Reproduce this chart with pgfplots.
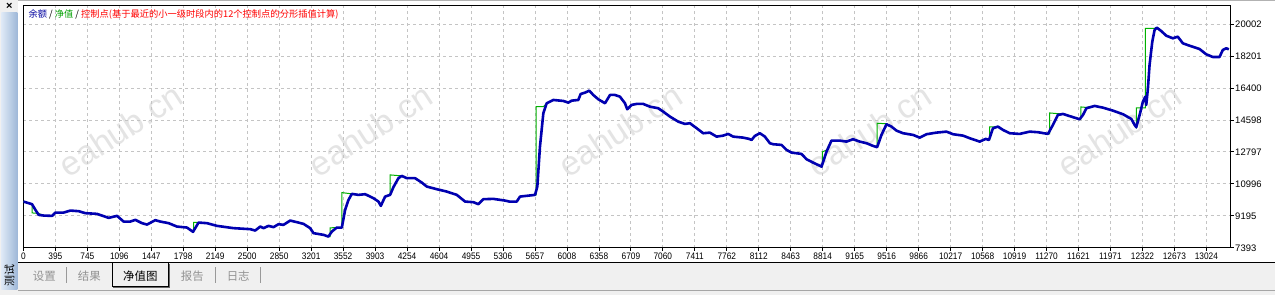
\documentclass[border=0pt]{standalone}
\usepackage{pgfplots}
\pgfplotsset{compat=1.18}
\usepackage{fontspec}
\setmainfont{Liberation Sans}
\newfontfamily\cjk{Noto Sans CJK SC}
\newfontfamily\xlab[FakeStretch=0.88]{Liberation Sans}
\definecolor{bal}{RGB}{0,0,176}
\definecolor{eq}{RGB}{0,176,0}
\definecolor{gridc}{RGB}{196,196,196}
\definecolor{uibg}{RGB}{240,240,240}
\definecolor{wm}{RGB}{228,228,228}
\definecolor{ttlblue}{RGB}{0,0,160}
\definecolor{ttlgreen}{RGB}{0,160,0}
\begin{document}
\begin{tikzpicture}
% background
\fill[white] (0bp,0bp) rectangle (1275bp,295bp);
\fill[uibg] (18bp,0bp) rectangle (1275bp,32bp);
\draw[black, line width=1bp] (18bp,32bp) -- (1275bp,32bp);
\draw[gray!70, line width=0.8bp] (0bp,4bp) -- (1275bp,4bp);
\draw[gray!60, line width=0.8bp] (18bp,294.5bp) -- (1275bp,294.5bp);
% left strip
\fill[uibg] (0bp,0bp) rectangle (18bp,295bp);
\shade[left color={rgb,255:red,222;green,233;blue,246}, right color={rgb,255:red,158;green,184;blue,216}] (1bp,5bp) rectangle (17bp,283bp);
\node[font=\bfseries\fontsize{11}{11}\selectfont] at (9bp,288.5bp) {×};
\node[rotate=90, font=\cjk\fontsize{11}{11}\selectfont] at (9bp,19bp) {测试};
% tabs
\draw[black, line width=1bp, fill=uibg] (112bp,32bp) -- (112bp,8bp) -- (168bp,8bp) -- (168bp,32bp);
\draw[gray!80!black, line width=1bp] (169bp,31bp) -- (169bp,7bp) -- (113bp,7bp);
\foreach \xx in {66,215,260}{\draw[gray!80, line width=0.8bp] (\xx bp,12bp) -- (\xx bp,28bp);}
\node[font=\cjk\fontsize{11.5}{12}\selectfont, text=gray!85] at (44bp,19bp) {设置};
\node[font=\cjk\fontsize{11.5}{12}\selectfont, text=gray!85] at (89bp,19bp) {结果};
\node[font=\cjk\fontsize{11.5}{12}\selectfont, text=black] at (140bp,19bp) {净值图};
\node[font=\cjk\fontsize{11.5}{12}\selectfont, text=gray!85] at (192bp,19bp) {报告};
\node[font=\cjk\fontsize{11.5}{12}\selectfont, text=gray!85] at (238bp,19bp) {日志};
% watermarks
\foreach \wx in {120,370,620,870,1120}{
  \node[rotate=33, text=wm, font=\fontsize{34}{34}\selectfont] at (\wx bp,165bp) {eahub.cn};
}
\begin{axis}[
  at={(23bp,47bp)}, anchor=south west,
  scale only axis, width=1208bp, height=243bp,
  xmin=0, xmax=13252, ymin=7393, ymax=21069,
  scaled ticks=false,
  axis line style={black, line width=1bp},
  xtick={0,351,...,12987},
  xticklabels={0,395,745,1096,1447,1798,2149,2500,2850,3201,3552,3903,4254,4604,4955,5306,5657,6008,6358,6709,7060,7411,7762,8112,8463,8814,9165,9516,9866,10217,10568,10919,11270,11621,11971,12322,12673,13024},
  ytick={7393,9195,10996,12797,14598,16400,18201,20002},
  yticklabels={7393,9195,10996,12797,14598,16400,18201,20002},
  yticklabel pos=right, xtick pos=bottom, ytick pos=right,
  grid=major,
  major grid style={gridc, dash pattern=on 3bp off 3bp, line width=0.8bp},
  tick align=outside, major tick length=3bp,
  tick style={black, line width=0.8bp},
  xticklabel style={font=\xlab\fontsize{9.5}{10}\selectfont, inner sep=1.5bp},
  yticklabel style={font=\fontsize{9.5}{10}\selectfont, anchor=west, inner sep=1.5bp},
  clip=true,
]
\addplot[eq, line width=1bp, line join=miter] coordinates {
(0,9999) (95,9852) (97,9360) (168,9330) (223,9211) (315,9194) (351,9380) (442,9380) (516,9492) (607,9458) (680,9346) (808,9307) (936,9081) (1028,9194) (1100,8873) (1174,8873) (1229,8969) (1302,8783) (1357,8704) (1448,8952) (1503,8873) (1594,8783) (1686,8592) (1796,8535) (1862,8293) (1868,8293) (1868,8830) (1923,8817) (2015,8783) (2125,8631) (2307,8502) (2490,8445) (2545,8367) (2600,8592) (2636,8502) (2691,8631) (2746,8558) (2801,8727) (2855,8687) (2929,8929) (3002,8839) (3075,8744) (3148,8502) (3185,8220) (3294,8125) (3349,8029) (3368,8029) (3368,8520) (3441,8535) (3496,8535) (3496,10505) (3606,10432) (3678,10376) (3752,10415) (3843,10190) (3898,9999) (3924,9757) (3971,10280) (4026,10376) (4026,11501) (4154,11445) (4209,11316) (4300,11316) (4374,11068) (4429,10843) (4538,10697) (4648,10562) (4758,10376) (4849,9999) (4940,9965) (4995,9852) (5050,10134) (5159,10151) (5288,10055) (5335,9999) (5416,9999) (5452,10280) (5617,10376) (5628,10376) (5628,15345) (5708,15345) (5745,15537) (5817,15722) (5927,15666) (5982,15571) (6019,15683) (6092,15722) (6118,16060) (6165,16133) (6212,16246) (6256,16004) (6311,15762) (6385,15537) (6440,16004) (6494,16004) (6549,15908) (6604,15537) (6629,15199) (6677,15441) (6732,15497) (6805,15497) (6878,15345) (6969,15255) (7024,15064) (7098,14783) (7189,14501) (7262,14372) (7317,14411) (7391,14130) (7463,13848) (7536,13882) (7610,13657) (7682,13713) (7737,13809) (7792,13657) (7902,13601) (7968,13527) (7994,13471) (8030,13696) (8085,13848) (8140,13657) (8195,13286) (8231,13229) (8323,13190) (8378,12908) (8433,12757) (8542,12683) (8597,12385) (8669,12194) (8762,11969) (8771,11969) (8771,12796) (8817,12900) (8871,13432) (8963,13432) (9036,13376) (9108,13511) (9182,13376) (9255,13286) (9328,13134) (9372,13060) (9372,14411) (9475,14380) (9530,14220) (9585,13995) (9657,13848) (9767,13753) (9840,13601) (9914,13792) (10023,13882) (10133,13938) (10206,13792) (10315,13713) (10389,13567) (10498,13376) (10564,13527) (10600,13471) (10608,13471) (10608,14203) (10699,14220) (10754,14034) (10827,13848) (10937,13809) (11047,13938) (11138,13905) (11248,13809) (11266,13809) (11266,14991) (11357,14950) (11412,14934) (11504,14783) (11595,14636) (11609,14636) (11609,15329) (11669,15300) (11760,15385) (11851,15289) (11961,15120) (12071,14918) (12163,14653) (12199,14315) (12217,14186) (12217,15272) (12316,15272) (12316,19758) (12418,19758) (12443,19792) (12491,19606) (12546,19341) (12619,19195) (12673,19285) (12728,18914) (12801,18778) (12911,18593) (12985,18294) (13057,18142) (13131,18142) (13167,18536) (13204,18632) (13233,18576)
};
\addplot[bal, line width=2.6bp, line join=round] coordinates {
(0,9999) (95,9852) (132,9532) (168,9250) (223,9211) (315,9194) (351,9380) (442,9380) (516,9492) (607,9458) (680,9346) (808,9307) (936,9081) (1028,9194) (1100,8873) (1174,8873) (1229,8969) (1302,8783) (1357,8704) (1448,8952) (1503,8873) (1594,8783) (1686,8592) (1796,8535) (1862,8293) (1923,8817) (2015,8783) (2125,8631) (2307,8502) (2490,8445) (2545,8367) (2600,8592) (2636,8502) (2691,8631) (2746,8558) (2801,8727) (2855,8687) (2929,8929) (3002,8839) (3075,8744) (3148,8502) (3185,8220) (3294,8125) (3349,8029) (3386,8310) (3441,8535) (3496,8535) (3532,9532) (3569,10094) (3606,10432) (3678,10376) (3752,10415) (3843,10190) (3898,9999) (3924,9757) (3971,10280) (4026,10376) (4062,10809) (4117,11316) (4154,11445) (4209,11316) (4300,11316) (4374,11068) (4429,10843) (4538,10697) (4648,10562) (4758,10376) (4849,9999) (4940,9965) (4995,9852) (5050,10134) (5159,10151) (5288,10055) (5335,9999) (5416,9999) (5452,10280) (5617,10376) (5642,10843) (5671,13094) (5708,14974) (5745,15537) (5817,15722) (5927,15666) (5982,15571) (6019,15683) (6092,15722) (6118,16060) (6165,16133) (6212,16246) (6256,16004) (6311,15762) (6385,15537) (6440,16004) (6494,16004) (6549,15908) (6604,15537) (6629,15199) (6677,15441) (6732,15497) (6805,15497) (6878,15345) (6969,15255) (7024,15064) (7098,14783) (7189,14501) (7262,14372) (7317,14411) (7391,14130) (7463,13848) (7536,13882) (7610,13657) (7682,13713) (7737,13809) (7792,13657) (7902,13601) (7968,13527) (7994,13471) (8030,13696) (8085,13848) (8140,13657) (8195,13286) (8231,13229) (8323,13190) (8378,12908) (8433,12757) (8542,12683) (8597,12385) (8669,12194) (8762,11969) (8817,12813) (8871,13432) (8963,13432) (9036,13376) (9108,13511) (9182,13376) (9255,13286) (9328,13134) (9372,13060) (9420,13753) (9475,14355) (9530,14220) (9585,13995) (9657,13848) (9767,13753) (9840,13601) (9914,13792) (10023,13882) (10133,13938) (10206,13792) (10315,13713) (10389,13567) (10498,13376) (10564,13527) (10600,13471) (10644,14130) (10699,14220) (10754,14034) (10827,13848) (10937,13809) (11047,13938) (11138,13905) (11248,13809) (11302,14315) (11357,14878) (11412,14934) (11504,14783) (11595,14636) (11632,14878) (11669,15255) (11760,15385) (11851,15289) (11961,15120) (12071,14918) (12163,14653) (12199,14315) (12217,14186) (12254,14878) (12290,15627) (12316,15908) (12327,15441) (12345,16381) (12363,17692) (12393,19004) (12418,19662) (12443,19792) (12491,19606) (12546,19341) (12619,19195) (12673,19285) (12728,18914) (12801,18778) (12911,18593) (12985,18294) (13057,18142) (13131,18142) (13167,18536) (13204,18632) (13233,18576)
};
\end{axis}
% title
\node[anchor=west, inner sep=0pt, font=\cjk\fontsize{9.3}{10}\selectfont] at (28bp,281bp) {\textcolor{ttlblue}{余额} / \textcolor{ttlgreen}{净值} / \textcolor{red}{控制点(基于最近的小一级时段内的12个控制点的分形插值计算)}};
\end{tikzpicture}
\end{document}
